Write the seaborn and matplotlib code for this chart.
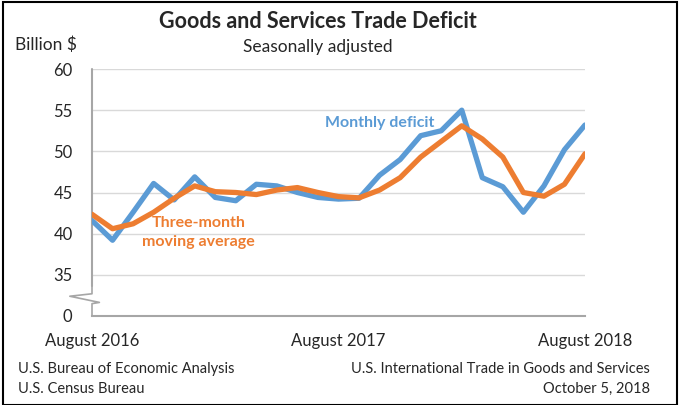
import pandas as pd
import seaborn as sns
import matplotlib.pyplot as plt
from matplotlib.patches import Rectangle

# monthly values, Aug 2016 .. Aug 2018
months = pd.date_range("2016-08-01", "2018-08-01", freq="MS")
monthly_deficit = [41.6, 39.2, 42.6, 46.1, 44.1, 46.9, 44.4, 44.0, 46.0, 45.8, 45.0, 44.4, 44.2,
                   44.3, 47.1, 49.0, 51.9, 52.5, 55.0, 46.8, 45.7, 42.6, 45.8, 50.2, 53.2]
moving_avg = [42.35, 40.6, 41.2, 42.6, 44.3, 45.8, 45.1, 45.0, 44.75, 45.3, 45.6, 45.0, 44.5,
              44.35, 45.3, 46.8, 49.3, 51.2, 53.1, 51.5, 49.3, 45.0, 44.55, 46.0, 49.7]
ytick_vals = [30, 35, 40, 45, 50, 55, 60]
ytick_labels = ["0", "35", "40", "45", "50", "55", "60"]
xlabel_idx = [0, 12, 24]

BLUE = "#5B9BD5"
ORANGE = "#ED7D31"
GRID = "#D9D9D9"
AXIS = "#A6A6A6"

sns.set_style("white")
plt.rcParams['font.family'] = ['Lato', 'DejaVu Sans']

df = pd.DataFrame({"idx": range(len(months)), "month": months,
                   "Monthly deficit": monthly_deficit, "Three-month moving average": moving_avg})

fig = plt.figure(figsize=(6.81, 4.05), dpi=100)
ax = fig.add_axes([92 / 681, 1 - 316 / 405, (585 - 92) / 681, (316 - 69) / 405])

sns.lineplot(data=df, x="idx", y="Monthly deficit", color=BLUE, linewidth=3.8, ax=ax, zorder=3)
sns.lineplot(data=df, x="idx", y="Three-month moving average", color=ORANGE, linewidth=3.8, ax=ax, zorder=4)

ax.set_xlim(0, len(months) - 1)
ax.set_ylim(30, 60)
ax.set_yticks(ytick_vals)
ax.set_yticklabels(ytick_labels, fontsize=12)
for v in ytick_vals[1:]:
    ax.axhline(v, color=GRID, linewidth=1, zorder=1)

ax.set_xticks(range(len(months)))
ax.set_xticklabels([])
ax.tick_params(axis="x", direction="out", length=5, color=AXIS, width=1)
ax.tick_params(axis="y", length=0, pad=14)
ax.set_xlabel("")
ax.set_ylabel("")
for i in xlabel_idx:
    ax.text(i, -0.07, months[i].strftime("%B %Y"), transform=ax.get_xaxis_transform(),
            ha="center", va="top", fontsize=12)

for s in ["top", "right", "left"]:
    ax.spines[s].set_visible(False)
ax.spines["bottom"].set_color(AXIS)
ax.spines["bottom"].set_linewidth(1.5)

# vertical axis with a break between 0 and 35
tr = ax.transAxes
ax.plot([0, 0], [1, 0.12], color=AXIS, lw=1.5, transform=tr, clip_on=False)
ax.plot([0, 0, -0.045, 0.015, 0, 0], [0.12, 0.09, 0.08, 0.055, 0.05, 0],
        color=AXIS, lw=1.2, transform=tr, clip_on=False)

ax.text(14.0, 53.45, "Monthly deficit", color=BLUE, fontsize=11.5, fontweight="bold",
        ha="center", va="center")
ax.text(5.2, 40.1, "Three-month\nmoving average", color=ORANGE, fontsize=11.5,
        fontweight="bold", ha="center", va="center", linespacing=1.45)

fig.text(318 / 681, 1 - 22 / 405, "Goods and Services Trade Deficit", ha="center", va="center",
         fontsize=15.5, fontweight="bold")
fig.text(318 / 681, 1 - 47 / 405, "Seasonally adjusted", ha="center", va="center", fontsize=12.5)
fig.text(15 / 681, 1 - 45 / 405, "Billion $", ha="left", va="center", fontsize=12.5)

fig.text(18 / 681, 1 - 369 / 405, "U.S. Bureau of Economic Analysis", ha="left", va="center", fontsize=10.5)
fig.text(18 / 681, 1 - 389 / 405, "U.S. Census Bureau", ha="left", va="center", fontsize=10.5)
fig.text(650 / 681, 1 - 369 / 405, "U.S. International Trade in Goods and Services", ha="right",
         va="center", fontsize=10.5)
fig.text(650 / 681, 1 - 389 / 405, "October 5, 2018", ha="right", va="center", fontsize=10.5)

fig.patches.append(Rectangle((0.004, 0.0), 0.99, 0.996, transform=fig.transFigure,
                             fill=False, edgecolor="black", linewidth=1.5))

fig.savefig("out.png", dpi=100)
